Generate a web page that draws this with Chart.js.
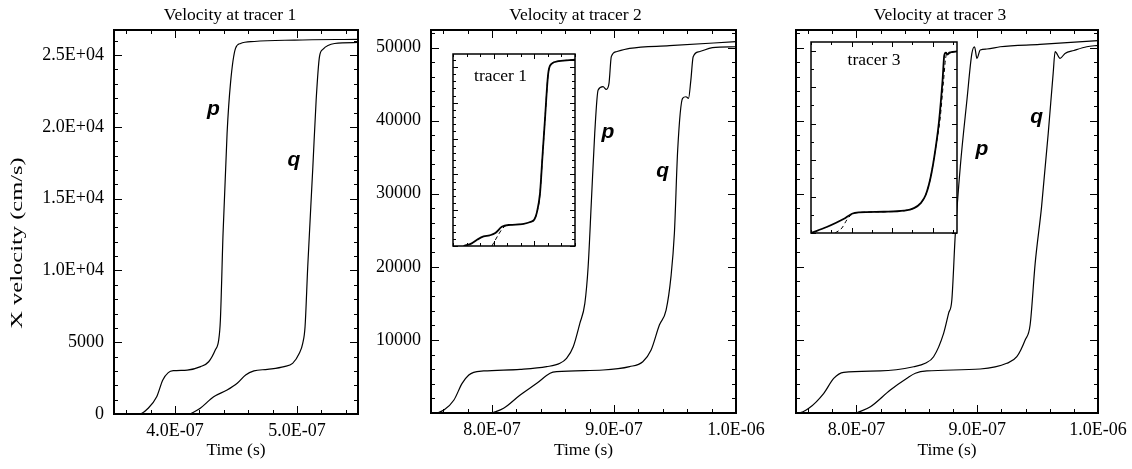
<!DOCTYPE html>
<html>
<head>
<meta charset="utf-8">
<title>Velocity at tracers</title>
<script src="https://cdn.jsdelivr.net/npm/chart.js@4.4.1/dist/chart.umd.min.js"></script>
<style>
  html, body { margin: 0; padding: 0; background: #fff; overflow: hidden; }
  #fig { position: relative; width: 1132px; height: 469px; background: #fff; overflow: hidden; }
  #fig canvas { position: absolute; }
</style>
</head>
<body>
<div id="fig">
  <canvas id="panel1" width="370" height="469" style="left:0px;top:0px"></canvas>
  <canvas id="panel2" width="420" height="469" style="left:370px;top:0px"></canvas>
  <canvas id="panel3" width="382" height="469" style="left:750px;top:0px"></canvas>
  <canvas id="inset1" width="126" height="196" style="left:451px;top:52px"></canvas>
  <canvas id="inset3" width="150" height="195" style="left:809px;top:40px"></canvas>
</div>
<script>
// --- tracer 1 : time (s) / x velocity (cm/s)
const t1p = [3.50e-7, 3.71e-7, 3.78e-7, 3.85e-7, 3.90e-7, 3.945e-7, 3.986e-7, 4.10e-7, 4.21e-7, 4.276e-7, 4.33e-7, 4.358e-7, 4.372e-7, 4.394e-7, 4.427e-7, 4.455e-7, 4.496e-7, 4.537e-7, 4.65e-7, 4.98e-7, 5.50e-7];
const v1p = [0, 0, 400, 1200, 2370, 2880, 3015, 3060, 3300, 3640, 4460, 5150, 6550, 12600, 19570, 23050, 25470, 25810, 25950, 26050, 26100];
const t1q = [4.124e-7, 4.207e-7, 4.317e-7, 4.427e-7, 4.51e-7, 4.579e-7, 4.647e-7, 4.758e-7, 4.895e-7, 4.964e-7, 5.019e-7, 5.047e-7, 5.066e-7, 5.088e-7, 5.13e-7, 5.157e-7, 5.184e-7, 5.212e-7, 5.308e-7, 5.50e-7];
const v1q = [0, 400, 1200, 1670, 2140, 2720, 3000, 3110, 3300, 3530, 4230, 4920, 6080, 10260, 17220, 21870, 24880, 25400, 25810, 25880];

// --- tracer 2
const t2p = [7.50e-7, 7.524e-7, 7.606e-7, 7.688e-7, 7.755e-7, 7.81e-7, 7.85e-7, 7.932e-7, 8.231e-7, 8.448e-7, 8.557e-7, 8.611e-7, 8.666e-7, 8.72e-7, 8.761e-7, 8.788e-7, 8.815e-7, 8.842e-7, 8.87e-7, 8.91e-7, 8.937e-7, 8.959e-7, 8.978e-7, 9.019e-7, 9.128e-7, 9.454e-7, 1.0e-6];
const v2p = [0, 0, 410, 1780, 4060, 5200, 5560, 5750, 5970, 6340, 6800, 7480, 9070, 12270, 15000, 20000, 29100, 38260, 44190, 44640, 44280, 45100, 48750, 49430, 49890, 50250, 50800];
const t2q = [8.0e-7, 8.095e-7, 8.231e-7, 8.367e-7, 8.476e-7, 8.53e-7, 8.91e-7, 9.128e-7, 9.236e-7, 9.304e-7, 9.372e-7, 9.427e-7, 9.467e-7, 9.495e-7, 9.522e-7, 9.562e-7, 9.59e-7, 9.611e-7, 9.63e-7, 9.649e-7, 9.698e-7, 9.807e-7, 1.0e-6];
const v2q = [0, 640, 2460, 4060, 5430, 5650, 5880, 6340, 7020, 8620, 12040, 14090, 18650, 24580, 35980, 43050, 43270, 43050, 45550, 48750, 49430, 49980, 50110];

// --- tracer 3
const t3p = [7.50e-7, 7.52e-7, 7.606e-7, 7.73e-7, 7.812e-7, 7.895e-7, 8.198e-7, 8.474e-7, 8.57e-7, 8.639e-7, 8.722e-7, 8.763e-7, 8.79e-7, 8.819e-7, 8.86e-7, 8.915e-7, 8.956e-7, 8.978e-7, 8.998e-7, 9.025e-7, 9.08e-7, 9.19e-7, 9.519e-7, 1.0e-6];
const v3p = [0, 0, 640, 2690, 4740, 5570, 5750, 6330, 6800, 7700, 10900, 13640, 15460, 24580, 33700, 42820, 49200, 50110, 48520, 49660, 49800, 50110, 50430, 50940];
const t3q = [8.0e-7, 8.116e-7, 8.281e-7, 8.419e-7, 8.488e-7, 8.584e-7, 9.025e-7, 9.245e-7, 9.328e-7, 9.397e-7, 9.438e-7, 9.48e-7, 9.533e-7, 9.588e-7, 9.629e-7, 9.645e-7, 9.686e-7, 9.727e-7, 9.80e-7, 9.907e-7, 1.0e-6];
const v3q = [0, 860, 3150, 4750, 5430, 5750, 6020, 6800, 7700, 9990, 12040, 20500, 28230, 38260, 46500, 49430, 48520, 49200, 49600, 50110, 50300];

// --- insets (solid and dashed traces)
const ti1s = [4.13e-7, 4.23e-7, 4.30e-7, 4.376e-7, 4.45e-7, 4.52e-7, 4.60e-7, 4.70e-7, 4.85e-7, 4.95e-7, 5.00e-7, 5.03e-7, 5.07e-7, 5.10e-7, 5.13e-7, 5.17e-7, 5.21e-7, 5.30e-7, 5.50e-7];
const vi1s = [0, 370, 900, 1340, 1480, 1800, 2680, 2950, 3050, 3350, 3700, 4620, 7390, 12500, 17560, 24030, 25410, 25800, 26000];
const ti1d = [4.478e-7, 4.52e-7, 4.56e-7, 4.60e-7, 4.64e-7, 4.70e-7, 4.85e-7, 4.95e-7, 5.00e-7, 5.03e-7, 5.07e-7, 5.10e-7, 5.13e-7, 5.17e-7, 5.21e-7, 5.30e-7, 5.50e-7];
const vi1d = [0, 830, 1620, 2310, 2770, 2950, 3060, 3360, 3700, 4600, 7300, 12400, 17500, 24000, 25400, 25800, 26000];
const ti3s = [8.0e-7, 8.194e-7, 8.401e-7, 8.505e-7, 8.588e-7, 8.898e-7, 9.146e-7, 9.27e-7, 9.353e-7, 9.415e-7, 9.477e-7, 9.539e-7, 9.58e-7, 9.622e-7, 9.643e-7, 9.663e-7, 9.684e-7, 9.705e-7, 9.746e-7, 9.8e-7];
const vi3s = [0, 1640, 3830, 5290, 5650, 5830, 6110, 6830, 8200, 10480, 15490, 23690, 30980, 41920, 48750, 49480, 48940, 49480, 49660, 49850];
const ti3d = [8.298e-7, 8.381e-7, 8.443e-7, 8.484e-7, 8.546e-7, 8.6e-7, 8.9e-7, 9.15e-7, 9.27e-7, 9.353e-7, 9.415e-7, 9.477e-7, 9.539e-7, 9.59e-7, 9.635e-7, 9.66e-7, 9.68e-7, 9.70e-7, 9.72e-7, 9.8e-7];
const vi3d = [0, 1370, 3650, 4740, 5470, 5650, 5830, 6110, 6830, 8200, 10480, 15490, 23690, 31000, 42000, 48000, 49200, 49000, 49500, 49850];

// --- tick marks and labels
const xMajor1 = [4.0e-7, 5.0e-7];
const xLabels1 = ['4.0E-07', '5.0E-07'];
const yMajor1 = [0, 5000, 10000, 15000, 20000, 25000];
const yLabels1 = ['0', '5000', '1.0E+04', '1.5E+04', '2.0E+04', '2.5E+04'];
const xMajor23 = [8.0e-7, 9.0e-7, 1.0e-6];
const xLabels23 = ['8.0E-07', '9.0E-07', '1.0E-06'];
const yMajor23 = [0, 10000, 20000, 30000, 40000, 50000];
const yLabels2 = ['', '10000', '20000', '30000', '40000', '50000'];
const xMajorIn1 = [4.5e-7, 5.0e-7];
const yMajorIn1 = [0, 5000, 10000, 15000, 20000, 25000];
const xMajorIn3 = [8.5e-7, 9.0e-7, 9.5e-7];
const yMajorIn3 = [0, 10000, 20000, 30000, 40000, 50000];

const SERIF = "'Liberation Serif', 'Times New Roman', serif";
const LABEL_FONT = "italic bold 21px 'Liberation Sans', Arial, sans-serif";
const TEXT_FONT = '17.5px ' + SERIF;
Chart.defaults.font.family = SERIF;
Chart.defaults.font.size = 18;
Chart.defaults.color = '#000';

// major ticks (labelled) + minor ticks on multiples of step
function buildTicks(majors, labels, step, min, max) {
  const out = majors.map((v, i) => ({ value: v, big: true, text: labels ? labels[i] : '' }));
  const k0 = Math.ceil(min / step - 1e-6), k1 = Math.floor(max / step + 1e-6);
  for (let k = k0; k <= k1; k++) {
    const v = k * step;
    if (majors.some(m => Math.abs(m - v) < step * 0.01)) continue;
    out.push({ value: v, big: false, text: '' });
  }
  return out.sort((a, b) => a.value - b.value);
}

// frame, inward ticks on all four sides, titles and curve labels
const framePlugin = {
  id: 'frame',
  beforeDraw(chart, args, o) {
    if (!o.fill) return;
    const a = chart.chartArea, ctx = chart.ctx;
    ctx.save();
    ctx.fillStyle = '#fff';
    ctx.fillRect(a.left, a.top, a.right - a.left, a.bottom - a.top);
    ctx.restore();
  },
  afterDatasetsDraw(chart, args, o) {
    const { ctx, chartArea: a, scales } = chart;
    const sx = scales.x, sy = scales.y;
    ctx.save();
    ctx.strokeStyle = '#000';
    ctx.lineWidth = 1;
    ctx.beginPath();
    sx.ticks.forEach(t => {
      const px = Math.round(sx.getPixelForValue(t.value)) + 0.5;
      const len = t.big ? o.major : o.minor;
      ctx.moveTo(px, a.bottom); ctx.lineTo(px, a.bottom - len);
      ctx.moveTo(px, a.top); ctx.lineTo(px, a.top + len);
    });
    sy.ticks.forEach(t => {
      const py = Math.round(sy.getPixelForValue(t.value)) + 0.5;
      const len = t.big ? o.major : o.minor;
      ctx.moveTo(a.left, py); ctx.lineTo(a.left + len, py);
      ctx.moveTo(a.right, py); ctx.lineTo(a.right - len, py);
    });
    ctx.stroke();
    ctx.lineWidth = o.border;
    ctx.strokeRect(a.left, a.top, a.right - a.left, a.bottom - a.top);

    ctx.fillStyle = '#000';
    ctx.textAlign = 'center';
    (o.notes || []).forEach(n => {
      ctx.font = n.font;
      ctx.textBaseline = n.baseline;
      ctx.fillText(n.text, sx.getPixelForValue(n.x), sy.getPixelForValue(n.y));
    });
    if (o.title) {
      ctx.font = TEXT_FONT;
      ctx.textBaseline = 'alphabetic';
      ctx.fillText(o.title.text, (a.left + a.right) / 2 + o.title.dx, o.title.y);
    }
    if (o.yTitle) {
      // the axis label of the original is drawn stretched along its length
      ctx.font = TEXT_FONT;
      ctx.textBaseline = 'alphabetic';
      ctx.translate(o.yTitle.x, o.yTitle.y);
      ctx.rotate(-Math.PI / 2);
      ctx.scale(o.yTitle.stretch, 1);
      ctx.fillText(o.yTitle.text, 0, 0);
    }
    ctx.restore();
  }
};

function toPoints(ts, vs) {
  return ts.map((t, i) => ({ x: t, y: vs[i] }));
}

function makeChart(id, c) {
  const axisTicks = (labelsShown, pad) => ({
    display: labelsShown, autoSkip: false, maxRotation: 0, minRotation: 0, padding: pad,
    callback: (v, i, ticks) => ticks[i].text || ''
  });
  return new Chart(document.getElementById(id), {
    type: 'line',
    data: {
      datasets: c.series.map(s => ({
        data: toPoints(s.t, s.v),
        borderColor: '#000',
        borderWidth: s.width,
        borderDash: s.dash || [],
        pointRadius: 0,
        fill: false,
        cubicInterpolationMode: 'monotone'
      }))
    },
    options: {
      responsive: false,
      animation: false,
      devicePixelRatio: 1,
      layout: { padding: c.padding },
      plugins: { legend: { display: false }, tooltip: { enabled: false }, frame: c.frame },
      scales: {
        x: {
          type: 'linear', display: c.axes, min: c.x[0], max: c.x[1], bounds: 'data',
          grid: { display: false, drawTicks: false }, border: { display: false },
          ticks: axisTicks(true, 6),
          afterBuildTicks: s => { s.ticks = buildTicks(c.xMajor, c.xLabels, c.xStep, c.x[0], c.x[1]); },
          afterFit: s => { if (c.axes) s.height = c.xAxisH; s.paddingLeft = 0; s.paddingRight = 0; },
          title: { display: c.axes, text: 'Time (s)', font: { size: 17.5 }, padding: { top: 0, bottom: 8 } }
        },
        y: {
          type: 'linear', display: c.axes, min: c.y[0], max: c.y[1], bounds: 'data',
          grid: { display: false, drawTicks: false }, border: { display: false },
          ticks: axisTicks(!!c.yLabels, 10),
          afterBuildTicks: s => { s.ticks = buildTicks(c.yMajor, c.yLabels, c.yStep, c.y[0], c.y[1]); },
          afterFit: s => { if (c.axes) s.width = c.yAxisW; s.paddingTop = 0; s.paddingBottom = 0; }
        }
      }
    },
    plugins: [framePlugin]
  });
}

const mainFrame = { major: 8, minor: 4, border: 2 };

makeChart('panel1', {
  axes: true, padding: { top: 30, right: 12, left: 0, bottom: 0 }, xAxisH: 55, yAxisW: 114,
  x: [3.5e-7, 5.5e-7], xMajor: xMajor1, xLabels: xLabels1, xStep: 2e-8,
  y: [0, 26750], yMajor: yMajor1, yLabels: yLabels1, yStep: 1000,
  series: [{ t: t1p, v: v1p, width: 1.2 }, { t: t1q, v: v1q, width: 1.2 }],
  frame: Object.assign({}, mainFrame, {
    title: { text: 'Velocity at tracer 1', dx: -6, y: 20 },
    yTitle: { text: 'X velocity (cm/s)', x: 22, y: 243, stretch: 1.4 },
    notes: [
      { text: 'p', x: 4.314e-7, y: 20800, font: LABEL_FONT, baseline: 'alphabetic' },
      { text: 'q', x: 4.975e-7, y: 17250, font: LABEL_FONT, baseline: 'alphabetic' }
    ]
  })
});

makeChart('panel2', {
  axes: true, padding: { top: 30, right: 54, left: 0, bottom: 0 }, xAxisH: 56, yAxisW: 61,
  x: [7.5e-7, 1.0e-6], xMajor: xMajor23, xLabels: xLabels23, xStep: 2e-8,
  y: [0, 52400], yMajor: yMajor23, yLabels: yLabels2, yStep: 2000,
  series: [{ t: t2p, v: v2p, width: 1.2 }, { t: t2q, v: v2q, width: 1.2 }],
  frame: Object.assign({}, mainFrame, {
    title: { text: 'Velocity at tracer 2', dx: -8, y: 20 },
    notes: [
      { text: 'p', x: 8.951e-7, y: 37580, font: LABEL_FONT, baseline: 'alphabetic' },
      { text: 'q', x: 9.399e-7, y: 32340, font: LABEL_FONT, baseline: 'alphabetic' }
    ]
  })
});

makeChart('panel3', {
  axes: true, padding: { top: 30, right: 34, left: 0, bottom: 0 }, xAxisH: 56, yAxisW: 46,
  x: [7.5e-7, 1.0e-6], xMajor: xMajor23, xLabels: xLabels23, xStep: 2e-8,
  y: [0, 52400], yMajor: yMajor23, yLabels: null, yStep: 2000,
  series: [{ t: t3p, v: v3p, width: 1.2 }, { t: t3q, v: v3q, width: 1.2 }],
  frame: Object.assign({}, mainFrame, {
    title: { text: 'Velocity at tracer 3', dx: -7, y: 20 },
    notes: [
      { text: 'p', x: 9.038e-7, y: 35290, font: LABEL_FONT, baseline: 'alphabetic' },
      { text: 'q', x: 9.492e-7, y: 39630, font: LABEL_FONT, baseline: 'alphabetic' }
    ]
  })
});

makeChart('inset1', {
  axes: false, padding: 2,
  x: [4.0e-7, 5.5e-7], xMajor: xMajorIn1, xLabels: null, xStep: 5e-8 / 3,
  y: [0, 26800], yMajor: yMajorIn1, yLabels: null, yStep: 1000,
  series: [{ t: ti1s, v: vi1s, width: 1.8 }, { t: ti1d, v: vi1d, width: 1, dash: [4, 3] }],
  frame: {
    major: 5, minor: 3, border: 1.5, fill: true,
    notes: [{ text: 'tracer 1', x: 4.584e-7, y: 23730, font: TEXT_FONT, baseline: 'middle' }]
  }
});

makeChart('inset3', {
  axes: false, padding: 2,
  x: [8.0e-7, 9.8e-7], xMajor: xMajorIn3, xLabels: null, xStep: 2.5e-8,
  y: [0, 52400], yMajor: yMajorIn3, yLabels: null, yStep: 5000,
  series: [{ t: ti3s, v: vi3s, width: 1.8 }, { t: ti3d, v: vi3d, width: 1, dash: [4, 3] }],
  frame: {
    major: 5, minor: 3, border: 1.5, fill: true,
    notes: [{ text: 'tracer 3', x: 8.777e-7, y: 47460, font: TEXT_FONT, baseline: 'middle' }]
  }
});
</script>
</body>
</html>
